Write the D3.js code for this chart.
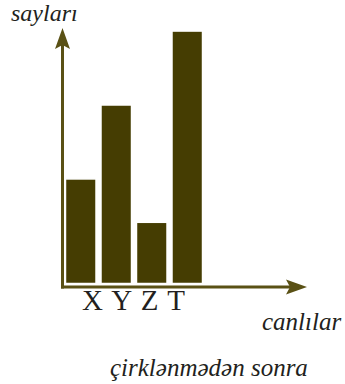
<!DOCTYPE html>
<html>
<head>
<meta charset="utf-8">
<script src="https://cdn.jsdelivr.net/npm/d3@7"></script>
<style>
  body { margin: 0; background: #fff; }
  text { font-family: "Liberation Serif", "DejaVu Serif", serif; fill: #231f20; }
</style>
</head>
<body>
<div class="chart"></div>
<script>
var categories = ["X", "Y", "Z", "T"];
var values = [4.1, 7.0, 2.4, 9.9];
var yTitle = "sayları";
var xTitle = "canlılar";
var caption = "çirklənmədən sonra";

var width = 345,
    height = 384;
var barColor = "#453d02",
    axisColor = "#5a5115";

var svg = d3.select(".chart").append("svg")
    .attr("width", width)
    .attr("height", height);

var x = d3.scaleBand()
    .domain(categories)
    .range([63, 205])
    .paddingInner(0.14)
    .paddingOuter(0.07);

var y = d3.scaleLinear()
    .domain([0, 10])
    .range([283.5, 28.5]);

// bars
svg.append("g")
  .selectAll("rect")
  .data(values)
  .enter().append("rect")
    .attr("x", function(d, i) { return x(categories[i]); })
    .attr("y", function(d) { return y(d); })
    .attr("width", x.bandwidth())
    .attr("height", function(d) { return y(0) - y(d); })
    .attr("fill", barColor)
    .attr("stroke", "#fff")
    .attr("stroke-width", 1.5);

// axes with arrow heads
var ox = 62.5, oy = 287;
var axes = svg.append("g");
axes.append("line")
    .attr("x1", ox).attr("y1", oy + 1.5)
    .attr("x2", ox).attr("y2", 45)
    .attr("stroke", axisColor).attr("stroke-width", 3);
axes.append("path")
    .attr("d", "M" + ox + ",28 L" + (ox + 7.5) + ",49 L" + ox + ",45 L" + (ox - 7.5) + ",49 Z")
    .attr("fill", axisColor);
axes.append("line")
    .attr("x1", ox - 1.5).attr("y1", oy)
    .attr("x2", 290).attr("y2", oy)
    .attr("stroke", axisColor).attr("stroke-width", 3);
axes.append("path")
    .attr("d", "M307," + oy + " L286," + (oy - 7.5) + " L290," + oy + " L286," + (oy + 7.5) + " Z")
    .attr("fill", axisColor);

// category labels
svg.append("text")
    .attr("x", 82)
    .attr("y", 310)
    .attr("font-size", 29)
    .attr("textLength", 103)
    .text(categories.join(" "));

// italic titles
function italic(str, tx, ty, size) {
  svg.append("text")
      .attr("x", tx)
      .attr("y", ty)
      .attr("font-size", size)
      .attr("font-style", "italic")
      .text(str);
}
italic(yTitle, 11, 21, 24);
italic(xTitle, 262, 330, 25);
italic(caption, 110, 376, 25);
</script>
</body>
</html>
